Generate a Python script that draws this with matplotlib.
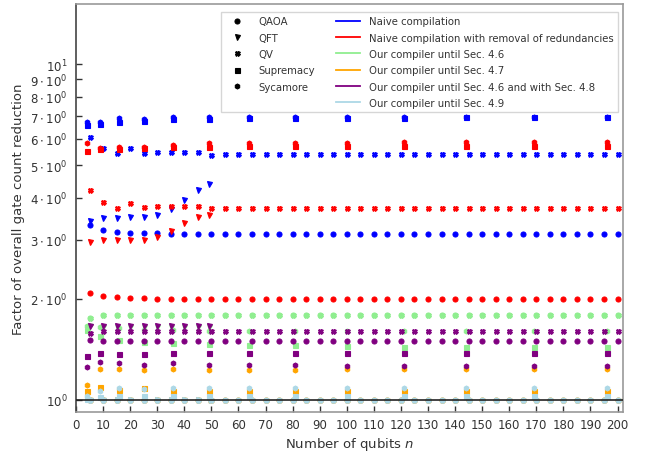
import matplotlib
matplotlib.use("Agg")
import matplotlib.pyplot as plt
from matplotlib.lines import Line2D
from matplotlib.ticker import FixedLocator, NullLocator

# Qubit counts per benchmark family
x_qaoa = [5, 10, 15, 20, 25, 30, 35, 40, 45, 50, 55, 60, 65, 70, 75, 80, 85, 90, 95, 100,
          105, 110, 115, 120, 125, 130, 135, 140, 145, 150, 155, 160, 165, 170, 175, 180, 185, 190, 195, 200]
x_qv = x_qaoa
x_qft = [5, 10, 15, 20, 25, 30, 35, 40, 45, 49]
x_grid = [4, 9, 16, 25, 36, 49, 64, 81, 100, 121, 144, 169, 196]

benchmarks = ["QAOA", "QFT", "QV", "Supremacy", "Sycamore"]
markers = ["o", "v", "X", "s", "h"]

compilers = ["Naive compilation",
             "Naive compilation with removal of redundancies",
             "Our compiler until Sec. 4.6",
             "Our compiler until Sec. 4.7",
             "Our compiler until Sec. 4.6 and with Sec. 4.8",
             "Our compiler until Sec. 4.9"]
colors = ["blue", "red", "lightgreen", "orange", "purple", "lightblue"]

# Reduction factors: naive compilation
naive_qaoa = [3.32, 3.20, 3.17, 3.15, 3.15, 3.14, 3.13, 3.13, 3.13, 3.13, 3.13, 3.13, 3.13, 3.13, 3.13, 3.13, 3.13, 3.13, 3.13, 3.13,
              3.13, 3.13, 3.13, 3.13, 3.13, 3.13, 3.13, 3.13, 3.13, 3.13, 3.13, 3.13, 3.13, 3.13, 3.13, 3.13, 3.13, 3.13, 3.13, 3.13]
naive_qft = [3.42, 3.48, 3.48, 3.50, 3.50, 3.55, 3.70, 3.95, 4.22, 4.39]
naive_qv = [6.05, 5.61, 5.43, 5.61, 5.44, 5.48, 5.48, 5.46, 5.46, 5.38, 5.40, 5.40, 5.40, 5.40, 5.40, 5.40, 5.40, 5.40, 5.40, 5.40,
            5.40, 5.40, 5.40, 5.40, 5.40, 5.40, 5.40, 5.40, 5.40, 5.40, 5.40, 5.40, 5.40, 5.40, 5.40, 5.40, 5.40, 5.40, 5.40, 5.40]
naive_sup = [6.60, 6.65, 6.72, 6.75, 6.85, 6.85, 6.90, 6.90, 6.92, 6.92, 6.95, 6.95, 6.95]
naive_syc = [6.72, 6.72, 6.90, 6.85, 6.95, 6.95, 6.95, 6.95, 6.95, 6.97, 6.97, 6.97, 6.97]

# Naive compilation with removal of redundancies
red_qaoa = [2.08, 2.04, 2.02, 2.01, 2.01, 2.005, 2.0, 2.0, 2.0, 2.0, 2.0, 2.0, 2.0, 2.0, 2.0, 2.0, 2.0, 2.0, 2.0, 2.0,
            2.0, 2.0, 2.0, 2.0, 2.0, 2.0, 2.0, 2.0, 2.0, 2.0, 2.0, 2.0, 2.0, 2.0, 2.0, 2.0, 2.0, 2.0, 2.0, 2.0]
red_qft = [2.95, 3.00, 3.00, 3.00, 3.00, 3.05, 3.19, 3.36, 3.50, 3.56]
red_qv = [4.22, 3.88, 3.74, 3.87, 3.75, 3.79, 3.79, 3.77, 3.77, 3.73, 3.72, 3.72, 3.72, 3.72, 3.72, 3.72, 3.72, 3.72, 3.72, 3.72,
          3.72, 3.72, 3.72, 3.72, 3.72, 3.72, 3.72, 3.72, 3.72, 3.72, 3.72, 3.72, 3.72, 3.72, 3.72, 3.72, 3.72, 3.72, 3.72, 3.72]
red_sup = [5.50, 5.60, 5.60, 5.62, 5.68, 5.66, 5.70, 5.72, 5.72, 5.72, 5.72, 5.72, 5.70]
red_syc = [5.83, 5.62, 5.65, 5.68, 5.75, 5.82, 5.82, 5.82, 5.82, 5.85, 5.85, 5.85, 5.88]

# Our compiler until Sec. 4.6
s46_qaoa = [1.76, 1.79, 1.79, 1.79, 1.79, 1.79, 1.79, 1.79, 1.79, 1.79, 1.79, 1.79, 1.79, 1.79, 1.79, 1.79, 1.79, 1.79, 1.79, 1.79,
            1.79, 1.79, 1.79, 1.79, 1.79, 1.79, 1.79, 1.79, 1.79, 1.79, 1.79, 1.79, 1.79, 1.79, 1.79, 1.79, 1.79, 1.79, 1.79, 1.79]
s46_qft = [1.66, 1.65, 1.65, 1.65, 1.65, 1.65, 1.65, 1.65, 1.65, 1.65]
s46_qv = [1.76, 1.79, 1.79, 1.79, 1.79, 1.79, 1.79, 1.79, 1.79, 1.79, 1.79, 1.79, 1.79, 1.79, 1.79, 1.79, 1.79, 1.79, 1.79, 1.79,
          1.79, 1.79, 1.79, 1.79, 1.79, 1.79, 1.79, 1.79, 1.79, 1.79, 1.79, 1.79, 1.79, 1.79, 1.79, 1.79, 1.79, 1.79, 1.79, 1.79]
s46_sup = [1.62, 1.55, 1.51, 1.485, 1.475, 1.468, 1.46, 1.46, 1.45, 1.435, 1.435, 1.435, 1.435]
s46_syc = [1.66, 1.645, 1.64, 1.62, 1.615, 1.61, 1.605, 1.60, 1.60, 1.60, 1.60, 1.60, 1.60]

# Our compiler until Sec. 4.7
s47_qaoa = [1.00, 1.00, 1.00, 1.00, 1.00, 1.00, 1.00, 1.00, 1.00, 1.00, 1.00, 1.00, 1.00, 1.00, 1.00, 1.00, 1.00, 1.00, 1.00, 1.00,
            1.00, 1.00, 1.00, 1.00, 1.00, 1.00, 1.00, 1.00, 1.00, 1.00, 1.00, 1.00, 1.00, 1.00, 1.00, 1.00, 1.00, 1.00, 1.00, 1.00]
s47_qft = [1.00, 1.00, 1.00, 1.00, 1.00, 1.00, 1.00, 1.00, 1.00, 1.00]
s47_qv = [1.00, 1.00, 1.00, 1.00, 1.00, 1.00, 1.00, 1.00, 1.00, 1.00, 1.00, 1.00, 1.00, 1.00, 1.00, 1.00, 1.00, 1.00, 1.00, 1.00,
          1.00, 1.00, 1.00, 1.00, 1.00, 1.00, 1.00, 1.00, 1.00, 1.00, 1.00, 1.00, 1.00, 1.00, 1.00, 1.00, 1.00, 1.00, 1.00, 1.00]
s47_sup = [1.06, 1.09, 1.07, 1.085, 1.066, 1.066, 1.06, 1.06, 1.06, 1.06, 1.06, 1.06, 1.06]
s47_syc = [1.11, 1.236, 1.236, 1.228, 1.236, 1.232, 1.232, 1.232, 1.236, 1.236, 1.236, 1.236, 1.236]

# Our compiler until Sec. 4.6 and with Sec. 4.8
s48_qaoa = [1.51, 1.50, 1.50, 1.50, 1.50, 1.50, 1.50, 1.50, 1.50, 1.50, 1.50, 1.50, 1.50, 1.50, 1.50, 1.50, 1.50, 1.50, 1.50, 1.50,
            1.50, 1.50, 1.50, 1.50, 1.50, 1.50, 1.50, 1.50, 1.50, 1.50, 1.50, 1.50, 1.50, 1.50, 1.50, 1.50, 1.50, 1.50, 1.50, 1.50]
s48_qft = [1.66, 1.66, 1.66, 1.66, 1.66, 1.66, 1.66, 1.66, 1.66, 1.66]
s48_qv = [1.58, 1.61, 1.61, 1.61, 1.61, 1.61, 1.61, 1.61, 1.61, 1.61, 1.61, 1.61, 1.61, 1.61, 1.61, 1.61, 1.61, 1.61, 1.61, 1.61,
          1.61, 1.61, 1.61, 1.61, 1.61, 1.61, 1.61, 1.61, 1.61, 1.61, 1.61, 1.61, 1.61, 1.61, 1.61, 1.61, 1.61, 1.61, 1.61, 1.61]
s48_sup = [1.355, 1.38, 1.37, 1.37, 1.38, 1.38, 1.38, 1.38, 1.38, 1.38, 1.38, 1.38, 1.38]
s48_syc = [1.256, 1.294, 1.286, 1.274, 1.286, 1.27, 1.27, 1.27, 1.265, 1.265, 1.265, 1.265, 1.265]

# Our compiler until Sec. 4.9
s49_qaoa = [1.00, 1.00, 1.00, 1.00, 1.00, 1.00, 1.00, 1.00, 1.00, 1.00, 1.00, 1.00, 1.00, 1.00, 1.00, 1.00, 1.00, 1.00, 1.00, 1.00,
            1.00, 1.00, 1.00, 1.00, 1.00, 1.00, 1.00, 1.00, 1.00, 1.00, 1.00, 1.00, 1.00, 1.00, 1.00, 1.00, 1.00, 1.00, 1.00, 1.00]
s49_qft = [1.00, 1.00, 1.00, 1.00, 1.00, 1.00, 1.00, 1.00, 1.00, 1.00]
s49_qv = [1.00, 1.00, 1.00, 1.00, 1.00, 1.00, 1.00, 1.00, 1.00, 1.00, 1.00, 1.00, 1.00, 1.00, 1.00, 1.00, 1.00, 1.00, 1.00, 1.00,
          1.00, 1.00, 1.00, 1.00, 1.00, 1.00, 1.00, 1.00, 1.00, 1.00, 1.00, 1.00, 1.00, 1.00, 1.00, 1.00, 1.00, 1.00, 1.00, 1.00]
s49_sup = [1.01, 1.02, 1.03, 1.03, 1.03, 1.03, 1.03, 1.03, 1.03, 1.03, 1.03, 1.03, 1.03]
s49_syc = [1.03, 1.06, 1.085, 1.075, 1.085, 1.085, 1.085, 1.085, 1.085, 1.085, 1.085, 1.085, 1.085]

ytick_vals = [1, 2, 3, 4, 5, 6, 7, 8, 9, 10]
ytick_labels = [r"$10^{0}$", r"$2\cdot10^{0}$", r"$3\cdot10^{0}$", r"$4\cdot10^{0}$", r"$5\cdot10^{0}$",
                r"$6\cdot10^{0}$", r"$7\cdot10^{0}$", r"$8\cdot10^{0}$", r"$9\cdot10^{0}$", r"$10^{1}$"]

results = [
    [naive_qaoa, naive_qft, naive_qv, naive_sup, naive_syc],
    [red_qaoa, red_qft, red_qv, red_sup, red_syc],
    [s46_qaoa, s46_qft, s46_qv, s46_sup, s46_syc],
    [s47_qaoa, s47_qft, s47_qv, s47_sup, s47_syc],
    [s48_qaoa, s48_qft, s48_qv, s48_sup, s48_syc],
    [s49_qaoa, s49_qft, s49_qv, s49_sup, s49_syc],
]
xs = [x_qaoa, x_qft, x_qv, x_grid, x_grid]

plt.rcParams["font.family"] = "DejaVu Sans"
plt.rcParams["mathtext.fontset"] = "dejavusans"
text_col = "#333333"
MS, MEW = 3.6, 0.8

fig = plt.figure(figsize=(6.46, 4.56), dpi=100)
ax = fig.add_axes([0.1176, 0.0943, 0.8467, 0.8947])

for col, series in zip(colors, results):
    for x, y, m in zip(xs, series, markers):
        ax.plot(x, y, linestyle="none", marker=m, color=col, markersize=MS, markeredgewidth=MEW)

ax.axhline(1.0, color="#222222", linewidth=1.2, zorder=3)

ax.set_yscale("log")
ax.set_xlim(0, 202)
ax.set_ylim(0.921, 15.1)
ax.yaxis.set_major_locator(FixedLocator(ytick_vals))
ax.yaxis.set_minor_locator(NullLocator())
ax.set_yticklabels(ytick_labels)
ax.set_xticks(list(range(0, 201, 10)))

ax.tick_params(axis="both", direction="in", length=4, width=1, colors="#333333",
               labelsize=8.5, labelcolor=text_col)
ax.tick_params(axis="y", pad=6)
ax.tick_params(axis="x", pad=4)

for side, sp in ax.spines.items():
    sp.set_linewidth(1.2)
    sp.set_color("#444444" if side == "left" else "#999999")

ax.set_xlabel(r"Number of qubits $n$", fontsize=9.5, color=text_col, labelpad=3)
ax.set_ylabel("Factor of overall gate count reduction", fontsize=9.5, color=text_col, labelpad=4)

# Legend: benchmark markers in the first column, compiler colors in the second
handles = [Line2D([], [], linestyle="none", marker=m, color="black", markersize=MS, markeredgewidth=MEW)
           for m in markers]
labels = list(benchmarks)
handles.append(Line2D([], [], linestyle="none"))
labels.append("")
for c, name in zip(colors, compilers):
    handles.append(Line2D([], [], color=c, linewidth=1.3))
    labels.append(name)

leg = ax.legend(handles, labels, ncol=2, loc="upper right", bbox_to_anchor=(1.0, 0.992),
                fontsize=7.3, frameon=True, fancybox=False, edgecolor="#cccccc",
                handlelength=2.4, handletextpad=0.9, columnspacing=2.0, labelspacing=0.62,
                borderaxespad=0.5)
leg.get_frame().set_linewidth(1.0)
for t in leg.get_texts():
    t.set_color(text_col)

fig.savefig("out.png", dpi=100)
